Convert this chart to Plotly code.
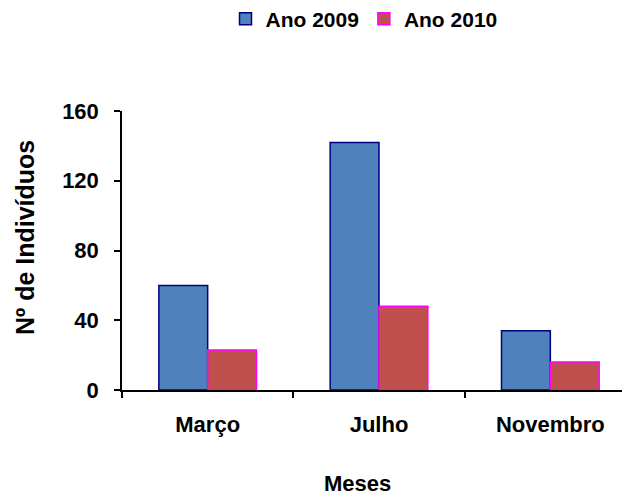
import plotly.graph_objects as go

categories = ["Março", "Julho", "Novembro"]
ano_2009 = [60, 142, 34]
ano_2010 = [23, 48, 16]
y_ticks = [0, 40, 80, 120, 160]

FONT = "Liberation Sans, Arial, sans-serif"

# pixel geometry of the reference (page has an 8px body offset)
OFF = 8
L, T, B, R = 122 - OFF, 111 - OFF, 494 + OFF - 390, 630 + OFF - 636
PW = 636 - 122
PH = 390 - 111

fig = go.Figure()
fig.add_trace(go.Bar(
    name="<b>Ano 2009</b>", x=categories, y=ano_2009,
    marker=dict(color="#4F81BD", line=dict(color="#000080", width=1.5)),
))
fig.add_trace(go.Bar(
    name="<b>Ano 2010</b>", x=categories, y=ano_2010,
    marker=dict(color="#C0504D", line=dict(color="#FF00FF", width=1.5)),
))

fig.update_layout(
    width=630, height=494,
    margin=dict(l=L, r=R, t=T, b=B, autoexpand=False),
    paper_bgcolor="white", plot_bgcolor="white",
    barmode="group", bargap=0.43, bargroupgap=0,
    font=dict(family=FONT, size=22, color="black"),
    showlegend=True,
    legend=dict(
        orientation="h", x=(364 - 122) / PW, xanchor="center",
        y=1 + (111 - 19) / PH, yanchor="middle",
        font=dict(size=21, family=FONT), itemwidth=30, traceorder="normal",
        bgcolor="rgba(0,0,0,0)",
    ),
    xaxis=dict(
        range=[-0.5, 2.5], showgrid=False, showline=True, linecolor="black", linewidth=1.5,
        ticks="outside", tickson="boundaries", ticklen=6, tickcolor="black", tickwidth=1.5,
        tickfont=dict(size=22, family=FONT), ticklabelstandoff=14,
        tickvals=categories, ticktext=["<b>%s</b>" % c for c in categories],
    ),
    yaxis=dict(
        range=[0, 160], showgrid=False, showline=True, linecolor="black", linewidth=1.5,
        ticks="outside", ticklen=6, tickcolor="black", tickwidth=1.5,
        tickvals=y_ticks, ticktext=["<b>%d</b>" % v for v in y_ticks],
        tickfont=dict(size=22, family=FONT), ticklabelstandoff=11, zeroline=False,
    ),
    annotations=[
        dict(text="<b>Meses</b>", xref="paper", yref="paper",
             x=(357 - 122) / PW, y=-(483 - 390) / PH, xanchor="center", yanchor="middle",
             showarrow=False, font=dict(size=22, family=FONT)),
        dict(text="<b>Nº de Indivíduos</b>", xref="paper", yref="paper", textangle=-90,
             x=-(122 - 25) / PW, y=(390 - 238) / PH, xanchor="center", yanchor="middle",
             showarrow=False, font=dict(size=25, family=FONT)),
    ],
)

fig.write_html("out.html")
